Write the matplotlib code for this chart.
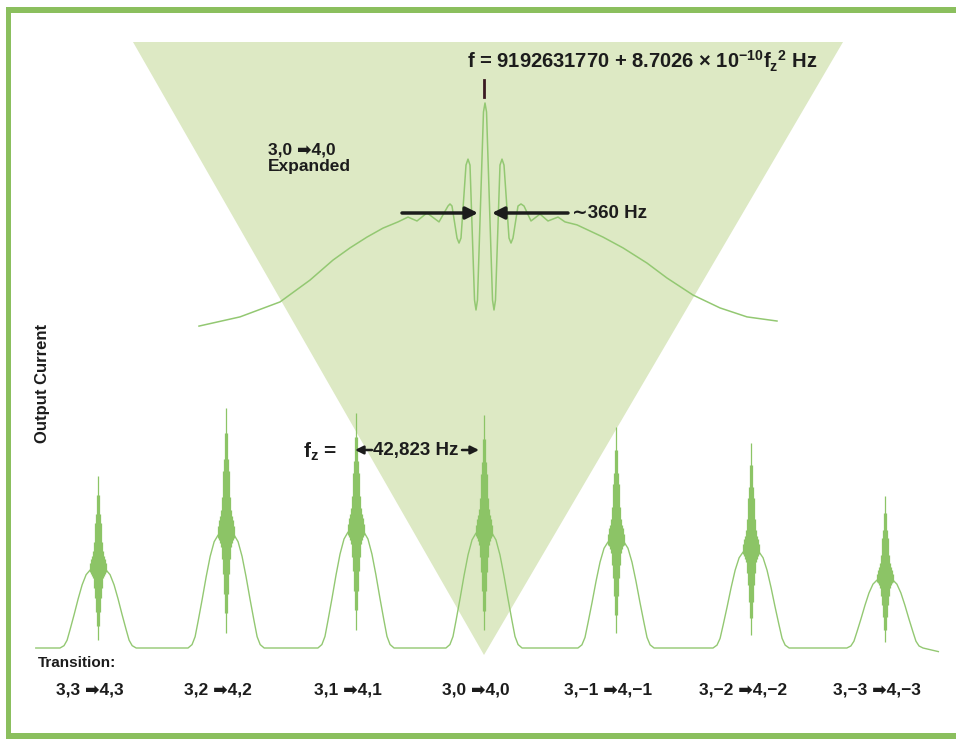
import matplotlib
matplotlib.use('Agg')
import matplotlib.pyplot as plt
from matplotlib.patches import Polygon, Rectangle

plt.rcParams['font.family'] = ['Liberation Sans', 'DejaVu Sans']
plt.rcParams['font.weight'] = 'bold'
plt.rcParams['mathtext.fontset'] = 'custom'
plt.rcParams['mathtext.rm'] = 'Liberation Sans:bold'
plt.rcParams['mathtext.it'] = 'Liberation Sans:bold'
plt.rcParams['mathtext.bf'] = 'Liberation Sans:bold'

# --- bottom spectrum: seven Zeeman transitions (x in kHz from the 3,0->4,0 line)
transitions = ['3,3 \u27a14,3', '3,2 \u27a14,2', '3,1 \u27a14,1', '3,0 \u27a14,0',
               '3,\u22121 \u27a14,\u22121', '3,\u22122 \u27a14,\u22122',
               '3,\u22123 \u27a14,\u22123']
peak_khz = [-125.7, -84.0, -41.7, 0.0, 43.0, 87.0, 130.6]
pedestal_top = [0.325, 0.471, 0.483, 0.479, 0.442, 0.400, 0.283]
spike_top = [0.717, 1.000, 0.979, 0.971, 0.921, 0.854, 0.633]
spike_bottom = [0.033, 0.063, 0.075, 0.075, 0.063, 0.054, 0.025]
baseline_khz = [-146.0, 148.0]
baseline_level = [0.0, -0.015]

ped_dx = [0.0, 2.6, 3.9, 5.2, 6.5, 7.8, 9.1, 10.1, 11.1, 12.4]
ped_frac = [1.0, 1.0, 0.94, 0.81, 0.63, 0.43, 0.24, 0.10, 0.03, 0.0]

# Ramsey fringe cluster (offset kHz, fraction of excursion up / down)
fringe_dx = [0.0, 0.33, 0.65, 0.98, 1.3, 1.63, 1.95, 2.28, 2.6]
fringe_up = [1.0, 0.8, 0.6, 0.5, 0.3, 0.2, 0.15, 0.12, 0.07]
fringe_dn = [1.0, 0.8, 0.6, 0.4, 0.25, 0.12, 0.08, 0.05, 0.03]

# --- expanded 3,0 -> 4,0 line (x in Hz from center)
exp_hz = [-7150, -6125, -5125, -4375, -3800, -3375, -2950, -2550, -2175, -1925,
          -1700, -1450, -1150, -925, -875, -825, -700, -650, -600, -475,
          -425, -375, -262, -225, -188, -38, 0, 38, 188, 225,
          262, 375, 425, 475, 600, 650, 700, 825, 900, 975,
          1150, 1375, 1575, 1825, 2000, 2300, 2950, 3450, 4050, 4550,
          5200, 5875, 6550, 7300]
exp_val = [0.017, 0.057, 0.122, 0.217, 0.304, 0.357, 0.404, 0.443, 0.470, 0.491,
           0.474, 0.509, 0.470, 0.539, 0.548, 0.539, 0.400, 0.378, 0.400, 0.717,
           0.743, 0.717, 0.130, 0.087, 0.130, 0.948, 0.987, 0.948, 0.130, 0.087,
           0.130, 0.717, 0.743, 0.717, 0.400, 0.378, 0.400, 0.539, 0.548, 0.539,
           0.474, 0.504, 0.474, 0.491, 0.470, 0.457, 0.404, 0.357, 0.291, 0.226,
           0.152, 0.096, 0.057, 0.039]

line_green = '#93c872'
spike_green = '#8cc466'
fill_green = '#dde9c4'
frame_green = '#8bbf5e'
ink = '#1c1c1c'

W, H = 956, 739
fig = plt.figure(figsize=(W / 100, H / 100), dpi=100)

# background layer in pixel units
bg = fig.add_axes([0, 0, 1, 1], zorder=0)
bg.set_xlim(0, W)
bg.set_ylim(H, 0)
bg.axis('off')
bg.add_patch(Polygon([(133, 42), (843, 42), (484, 655)], closed=True,
                     fc=fill_green, ec='none'))
bg.add_patch(Rectangle((6, 7), W, 6, fc=frame_green, ec='none'))
bg.add_patch(Rectangle((6, 7), 5, H, fc=frame_green, ec='none'))
bg.add_patch(Rectangle((6, 733), W, 6, fc=frame_green, ec='none'))

# expanded curve
ax_e = fig.add_axes([0, 0, 1, 1], zorder=1)
ax_e.set_xlim(-485 * 25, (W - 485) * 25)
ax_e.set_ylim((330 - H) / 230, 330 / 230)
ax_e.axis('off')
ax_e.patch.set_alpha(0)
ax_e.plot(exp_hz, exp_val, color=line_green, lw=1.1, solid_joinstyle='round')

# spectrum
ax_s = fig.add_axes([0, 0, 1, 1], zorder=2)
ax_s.set_xlim(-484 / 3.07, (W - 484) / 3.07)
ax_s.set_ylim((648 - H) / 240, 648 / 240)
ax_s.axis('off')
ax_s.patch.set_alpha(0)

xs = [baseline_khz[0]]
ys = [baseline_level[0]]
for c, h in zip(peak_khz, pedestal_top):
    for dx, f in zip(ped_dx[::-1], ped_frac[::-1]):
        xs.append(c - dx)
        ys.append(h * f)
    for dx, f in zip(ped_dx[1:], ped_frac[1:]):
        xs.append(c + dx)
        ys.append(h * f)
xs.append(baseline_khz[1])
ys.append(baseline_level[1])
ax_s.plot(xs, ys, color=line_green, lw=1.0)

for c, h, top, bot in zip(peak_khz, pedestal_top, spike_top, spike_bottom):
    vx, vmin, vmax = [], [], []
    for dx, up, dn in zip(fringe_dx, fringe_up, fringe_dn):
        for s in ([1] if dx == 0 else [-1, 1]):
            vx.append(c + s * dx)
            vmin.append(h - dn * (h - bot))
            vmax.append(h + up * (top - h))
    ax_s.vlines(vx, vmin, vmax, color=spike_green, lw=0.9)

for c, lab in zip(peak_khz, transitions):
    ax_s.text(c - 2.6, -0.175, lab, ha='center', va='center', fontsize=12.5,
              color=ink)

# annotations in pixel units
ov = fig.add_axes([0, 0, 1, 1], zorder=3)
ov.set_xlim(0, W)
ov.set_ylim(H, 0)
ov.axis('off')
ov.patch.set_alpha(0)

ov.text(467, 61, r'f = 9192631770 + 8.7026 $\times$ 10$^{\mathregular{-10}}$'
        r'f$_{\mathregular{z}}$$^{\mathregular{2}}$ Hz',
        ha='left', va='center', fontsize=14.5, color=ink)
ov.plot([484, 484], [80, 97], color='#3a1a22', lw=2)
ov.text(268, 150, '3,0 \u27a14,0', ha='left', va='center', fontsize=12.5, color=ink)
ov.text(268, 166, 'Expanded', ha='left', va='center', fontsize=12.5, color=ink)

arrow = dict(arrowstyle='-|>', lw=2.5, color=ink, mutation_scale=18,
             shrinkA=0, shrinkB=0)
ov.annotate('', xy=(478, 213), xytext=(402, 213), arrowprops=arrow)
ov.annotate('', xy=(492, 213), xytext=(568, 213), arrowprops=arrow)
ov.text(572, 214, '\u223c360 Hz', ha='left', va='center', fontsize=13.5, color=ink)

ov.text(43, 383, 'Output Current', rotation=90, ha='center', va='center',
        fontsize=12, color=ink)

ov.text(303, 452, r'f$_{\mathregular{z}}$ =', ha='left', va='center', fontsize=15,
        color=ink)
ov.text(373, 450, '42,823 Hz', ha='left', va='center', fontsize=13.5, color=ink)
small = dict(arrowstyle='-|>', lw=1.8, color=ink, mutation_scale=12,
             shrinkA=0, shrinkB=0)
ov.annotate('', xy=(355, 450), xytext=(372, 450), arrowprops=small)
ov.annotate('', xy=(479, 450), xytext=(462, 450), arrowprops=small)

ov.text(38, 663, 'Transition:', ha='left', va='center', fontsize=11, color=ink)

fig.savefig('out.png', dpi=100)
